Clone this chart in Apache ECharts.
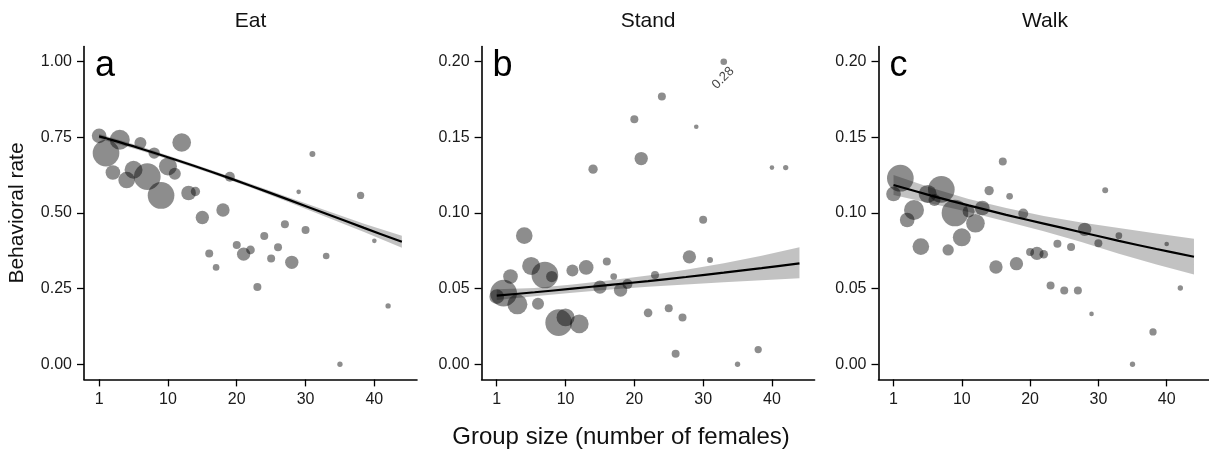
<!DOCTYPE html>
<html><head><meta charset="utf-8">
<script src="https://cdn.jsdelivr.net/npm/echarts@6/dist/echarts.min.js"></script>
<style>html,body{margin:0;padding:0;background:#fff}#c{width:1209px;height:455px}</style>
</head><body><div id="c"></div>
<script>
// ---- data ----
const groupPos = [0,1,2,3,4,5,6,7,8,9,10,11,12,13,14,15,16,17,18,19,20,21,22,23,24,25,26,27,28,29,30,31,33,35,38,40,42];
const sampleN  = [121,400,121,225,156,182,81,400,72,400,182,81,196,121,49,100,36,25,100,56,36,100,42,36,36,36,36,36,100,12,36,20,25,16,30,12,16];
const eatRate  = [0.755,0.698,0.634,0.742,0.609,0.643,0.731,0.620,0.698,0.558,0.654,0.630,0.733,0.566,0.571,0.485,0.366,0.320,0.510,0.620,0.394,0.364,0.378,0.255,0.424,0.350,0.387,0.463,0.337,0.570,0.444,0.695,0.358,0.000,0.558,0.408,0.193];
const standRate= [0.0447,0.047,0.058,0.0396,0.085,0.065,0.040,0.059,0.058,0.0275,0.031,0.062,0.0267,0.064,0.129,0.051,0.068,0.058,0.049,0.053,0.162,0.136,0.034,0.059,0.177,0.037,0.007,0.031,0.071,0.157,0.0956,0.069,0.28,0.000,0.0097,0.130,0.130];
const walkRate = [0.1126,0.123,0.0954,0.102,0.0778,0.1126,0.1086,0.1156,0.0756,0.100,0.0839,0.101,0.0932,0.1033,0.1148,0.0643,0.134,0.111,0.0665,0.0996,0.0742,0.0733,0.0727,0.052,0.0797,0.0487,0.0775,0.0487,0.0892,0.0333,0.080,0.115,0.085,0.000,0.0214,0.0795,0.0504];

// fitted curves and 95% bands
const fitX     = [0,5.5,11,16.5,22,27.5,33,38.5,44];
const eatFit   = [0.7531,0.7166,0.6770,0.6347,0.5903,0.5443,0.4975,0.4508,0.4049];
const eatLo    = [0.7451,0.7096,0.6710,0.6287,0.5843,0.5363,0.4870,0.4368,0.3854];
const eatHi    = [0.7611,0.7236,0.6830,0.6407,0.5963,0.5523,0.5080,0.4648,0.4244];
const standFit = [0.0454,0.0476,0.0500,0.0525,0.0550,0.0577,0.0606,0.0636,0.0667];
const standLo  = [0.0425,0.0450,0.0472,0.0494,0.0512,0.0528,0.0543,0.0556,0.0568];
const standHi  = [0.0496,0.0505,0.0528,0.0556,0.0587,0.0625,0.0668,0.0717,0.0773];
const walkFit  = [0.1185,0.1115,0.1050,0.0988,0.0930,0.0873,0.0816,0.0762,0.0711];
const walkLo   = [0.1119,0.1063,0.1007,0.0943,0.0880,0.0808,0.0731,0.0659,0.0593];
const walkHi   = [0.1251,0.1167,0.1093,0.1033,0.0980,0.0938,0.0901,0.0865,0.0829];

const panelTitles  = ['Eat','Stand','Walk'];
const panelLetters = ['a','b','c'];
const xTickValues  = [0,10,20,30,40];
const xTickLabels  = ['1','10','20','30','40'];
const yTicksEat    = [0,0.25,0.5,0.75,1];
const yTicksOther  = [0,0.05,0.1,0.15,0.2];
const yAxisTitle = 'Behavioral rate';
const xAxisTitle = 'Group size (number of females)';

// ---- layout ----
const FONT = '"Liberation Sans", Arial, sans-serif';
const gridLefts = [84, 481.6, 878.5];
const gridW = 333, gridTop = 46.6, gridH = 332.8;
const capTop = 0.2;

const panels = [
  {rate: eatRate, fit: eatFit, lo: eatLo, hi: eatHi, ymin:-0.05, ymax:1.05, ticks: yTicksEat, cap: null},
  {rate: standRate, fit: standFit, lo: standLo, hi: standHi, ymin:-0.01, ymax:0.21, ticks: yTicksOther, cap: capTop},
  {rate: walkRate, fit: walkFit, lo: walkLo, hi: walkHi, ymin:-0.01, ymax:0.21, ticks: yTicksOther, cap: capTop}
];

const grid = [], xAxis = [], yAxis = [], series = [], graphic = [];
panels.forEach((p, i) => {
  grid.push({left: gridLefts[i], top: gridTop, width: gridW, height: gridH});
  xAxis.push({
    type:'value', gridIndex:i, min:-2.2, max:46.2,
    axisLine:{show:true, onZero:false, lineStyle:{color:'#000', width:1.6}},
    axisTick:{show:true, length:7, customValues:xTickValues, lineStyle:{color:'#000', width:1.3}},
    axisLabel:{customValues:xTickValues, margin:12, fontSize:16, color:'#1a1a1a', fontFamily:FONT,
      formatter: v => xTickLabels[xTickValues.indexOf(Math.round(v))] || ''},
    splitLine:{show:false}
  });
  yAxis.push({
    type:'value', gridIndex:i, min:p.ymin, max:p.ymax,
    axisLine:{show:true, onZero:false, lineStyle:{color:'#000', width:1.6}},
    axisTick:{show:true, length:7, customValues:p.ticks, lineStyle:{color:'#000', width:1.3}},
    axisLabel:{customValues:p.ticks, margin:12, fontSize:16, color:'#1a1a1a', fontFamily:FONT,
      formatter: v => v.toFixed(2)},
    splitLine:{show:false}
  });
  // confidence band polygon
  series.push({
    type:'custom', xAxisIndex:i, yAxisIndex:i, silent:true, z:1,
    data: fitX.map((x,k)=>[x, p.lo[k], p.hi[k]]),
    encode:{x:0, y:[1,2]},
    renderItem: (params, api) => {
      if (params.dataIndex !== 0) return null;
      const pts = [];
      fitX.forEach((x,k)=>pts.push(api.coord([x, p.hi[k]])));
      for (let k = fitX.length-1; k >= 0; k--) pts.push(api.coord([fitX[k], p.lo[k]]));
      return {type:'polygon', shape:{points:pts}, style:{fill:'rgba(0,0,0,0.24)'}};
    }
  });
  // bubbles
  series.push({
    type:'scatter', xAxisIndex:i, yAxisIndex:i, z:2,
    data: groupPos.map((x,k)=>{
      const v = p.rate[k];
      const item = {value:[x, p.cap !== null ? Math.min(v, p.cap) : v]};
      if (p.cap !== null && v > p.cap) {
        item.label = {show:true, formatter: String(v), position:'inside', offset:[-12,11], rotate:45,
          color:'#111', fontSize:13, fontFamily:FONT};
      }
      return item;
    }),
    symbolSize: (val, params) => (4/3)*Math.sqrt(sampleN[params.dataIndex]),
    itemStyle:{color:'rgba(0,0,0,0.56)'},
    label:{show:false}
  });
  // fitted line
  series.push({
    type:'line', xAxisIndex:i, yAxisIndex:i, z:3, smooth:0.3, showSymbol:false, silent:true,
    data: fitX.map((x,k)=>[x, p.fit[k]]),
    lineStyle:{color:'#000', width:2.2}
  });
  graphic.push({type:'text', x: gridLefts[i] + gridW/2, y: 21,
    style:{text: panelTitles[i], fill:'#111', font:'21px ' + FONT, textAlign:'center', textVerticalAlign:'middle'}});
  graphic.push({type:'text', x: gridLefts[i] + 11, y: 66,
    style:{text: panelLetters[i], fill:'#000', font:'36px ' + FONT, textAlign:'left', textVerticalAlign:'middle'}});
});
graphic.push({type:'text', x:17, y: gridTop + gridH/2, rotation: Math.PI/2,
  style:{text: yAxisTitle, fill:'#111', font:'21px ' + FONT, textAlign:'center', textVerticalAlign:'middle'}});
graphic.push({type:'text', x: 621, y: 437,
  style:{text: xAxisTitle, fill:'#111', font:'24px ' + FONT, textAlign:'center', textVerticalAlign:'middle'}});

const chart = echarts.init(document.getElementById('c'), null, {renderer:'canvas'});
chart.setOption({animation:false, backgroundColor:'#fff', grid, xAxis, yAxis, series, graphic});
</script>
</body></html>
